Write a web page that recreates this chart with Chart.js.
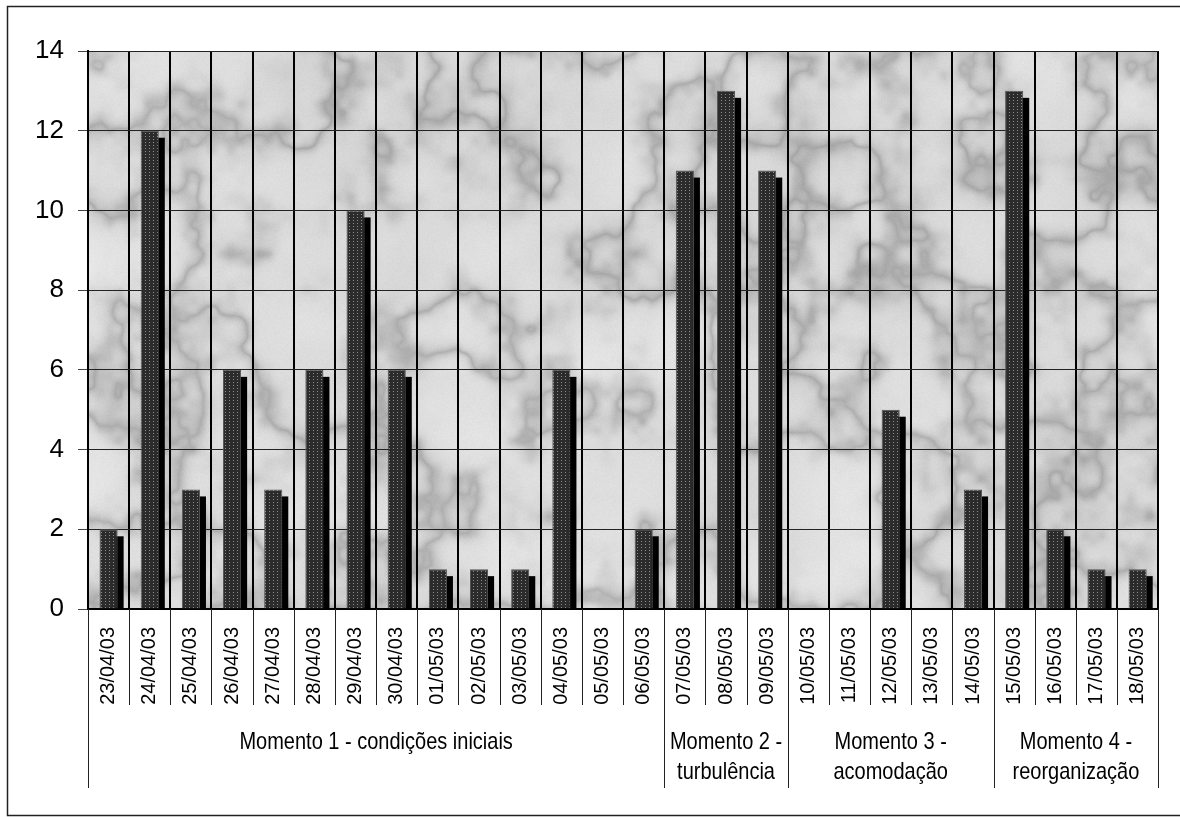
<!DOCTYPE html>
<html>
<head>
<meta charset="utf-8">
<script src="https://cdn.jsdelivr.net/npm/chart.js@4.4.1/dist/chart.umd.min.js"></script>
<style>
  html, body { margin: 0; padding: 0; background: #fff; }
  #wrap { width: 1180px; height: 817px; position: relative; }
</style>
</head>
<body>
<div id="wrap"><canvas id="c" width="1180" height="817"></canvas></div>
<script>
// ---- data ----
const dates = ['23/04/03','24/04/03','25/04/03','26/04/03','27/04/03','28/04/03','29/04/03','30/04/03',
  '01/05/03','02/05/03','03/05/03','04/05/03','05/05/03','06/05/03','07/05/03','08/05/03','09/05/03',
  '10/05/03','11/05/03','12/05/03','13/05/03','14/05/03','15/05/03','16/05/03','17/05/03','18/05/03'];
const counts = [2,12,3,6,3,6,10,6,1,1,1,6,0,2,11,13,11,0,0,5,0,3,13,2,1,1];
const groupLabels = [['Momento 1 - condições iniciais'], ['Momento 2 -','turbulência'], ['Momento 3 -','acomodação'], ['Momento 4 -','reorganização']];
const groupSizes = [14, 3, 5, 4];
const yTicks = [0, 2, 4, 6, 8, 10, 12, 14];

// ---- textures ----
function hash(x, y) {
  const s = Math.sin(x * 127.1 + y * 311.7) * 43758.5453;
  return s - Math.floor(s);
}
function vnoise(x, y) {
  const xi = Math.floor(x), yi = Math.floor(y);
  const xf = x - xi, yf = y - yi;
  const u = xf * xf * (3 - 2 * xf), v = yf * yf * (3 - 2 * yf);
  const a = hash(xi, yi), b = hash(xi + 1, yi), c = hash(xi, yi + 1), d = hash(xi + 1, yi + 1);
  return a + (b - a) * u + (c - a) * v + (a - b - c + d) * u * v;
}
function fbm(x, y, oct) {
  let s = 0, amp = 0.5, f = 1;
  for (let i = 0; i < oct; i++) { s += amp * vnoise(x * f, y * f); amp *= 0.5; f *= 2; }
  return s;
}
function makeMarble(w, h) {
  const cv = document.createElement('canvas');
  cv.width = w; cv.height = h;
  const cx = cv.getContext('2d');
  const img = cx.createImageData(w, h);
  for (let y = 0; y < h; y++) {
    for (let x = 0; x < w; x++) {
      const n = fbm(x / 75 + 3.1, y / 75 + 7.3, 4);
      const r = 1 - Math.abs(n * 2 - 1);
      const m = fbm(x / 110, y / 110, 3);
      let g = 234 - 50 * Math.pow(r, 7) - 26 * m + 6 * (hash(x, y) - 0.5);
      g = Math.max(150, Math.min(248, g));
      const i = (y * w + x) * 4;
      img.data[i] = g; img.data[i + 1] = g; img.data[i + 2] = g; img.data[i + 3] = 255;
    }
  }
  cx.putImageData(img, 0, 0);
  return cv;
}
function makeDots() {
  const cv = document.createElement('canvas');
  cv.width = 4; cv.height = 3;
  const cx = cv.getContext('2d');
  cx.fillStyle = '#2b2b2b'; cx.fillRect(0, 0, 4, 3);
  cx.fillStyle = '#8c8c8c'; cx.fillRect(1, 1, 1, 1);
  return cv;
}
const ctx = document.getElementById('c').getContext('2d');
const barPattern = ctx.createPattern(makeDots(), 'repeat');
let marble = null;

const FONT = "'Liberation Sans', Arial, Helvetica, sans-serif";

const chartPlugin = {
  id: 'decor',
  beforeDraw(chart) {
    const a = chart.chartArea, c = chart.ctx;
    c.save();
    c.fillStyle = '#fff';
    c.fillRect(0, 0, chart.width, chart.height);
    if (!marble) marble = makeMarble(Math.round(a.right - a.left), Math.round(a.bottom - a.top));
    c.drawImage(marble, a.left, a.top, a.right - a.left, a.bottom - a.top);
    c.restore();
  },
  beforeDatasetDraw(chart, args) {
    // black offset shadow behind every bar, from the bar elements' own geometry
    const c = chart.ctx;
    const meta = chart.getDatasetMeta(args.index);
    c.save();
    c.fillStyle = '#000';
    meta.data.forEach(el => {
      const p = el.getProps(['x', 'y', 'base', 'width'], true);
      if (p.base - p.y <= 0) return;
      const left = p.x - p.width / 2 + 6;
      const top = p.y + 7;
      c.fillRect(left, top, p.width, p.base - top);
    });
    c.restore();
  },
  afterDraw(chart) {
    const c = chart.ctx, x = chart.scales.x, a = chart.chartArea;
    const n = dates.length;
    const step = (a.right - a.left) / n;
    const edge = i => (i < n ? x.getPixelForValue(i) - step / 2 : x.getPixelForValue(n - 1) + step / 2);
    c.save();
    c.strokeStyle = '#222';
    c.lineWidth = 1;
    for (let i = 0; i <= n; i++) {
      const px = Math.round(edge(i)) + 0.5;
      c.beginPath(); c.moveTo(px, a.bottom); c.lineTo(px, a.bottom + 96); c.stroke();
    }
    let start = 0;
    const bounds = [0];
    groupSizes.forEach(s => { start += s; bounds.push(start); });
    bounds.forEach(b => {
      const px = Math.round(edge(b)) + 0.5;
      c.beginPath(); c.moveTo(px, a.bottom); c.lineTo(px, a.bottom + 179); c.stroke();
    });
    c.fillStyle = '#000';
    c.font = "20px " + FONT;
    c.textAlign = 'center';
    c.textBaseline = 'middle';
    groupLabels.forEach((lines, gi) => {
      const cx = (edge(bounds[gi]) + edge(bounds[gi + 1])) / 2;
      lines.forEach((t, li) => {
        const cy = a.bottom + 133 + li * 30;
        c.save();
        c.translate(cx, cy);
        c.scale(1, 1.18);
        c.fillText(t, 0, 0);
        c.restore();
      });
    });
    c.strokeStyle = '#222';
    c.lineWidth = 1.5;
    c.beginPath();
    c.moveTo(1181, 6.5); c.lineTo(7.5, 6.5); c.lineTo(7.5, 815.5); c.lineTo(1181, 815.5);
    c.stroke();
    c.restore();
  }
};

new Chart(ctx, {
  type: 'bar',
  data: {
    labels: dates,
    datasets: [{
      data: counts,
      backgroundColor: barPattern,
      borderColor: '#555',
      borderWidth: 1,
      borderSkipped: 'bottom',
      categoryPercentage: 1.0,
      barPercentage: 0.44
    }]
  },
  options: {
    responsive: false,
    animation: false,
    devicePixelRatio: 1,
    layout: { padding: { top: 51, right: 18, left: 0, bottom: 0 } },
    plugins: { legend: { display: false }, tooltip: { enabled: false } },
    scales: {
      x: {
        offset: true,
        grid: { offset: true, color: '#000', lineWidth: 2, drawTicks: false },
        border: { display: true, color: '#000', width: 2 },
        ticks: {
          autoSkip: false, minRotation: 90, maxRotation: 90, padding: 18,
          color: '#000', font: { family: FONT, size: 20 }
        },
        afterFit(s) { s.height = 208; }
      },
      y: {
        min: 0, max: 14,
        afterBuildTicks(s) { s.ticks = yTicks.map(v => ({ value: v })); },
        grid: { color: '#222', lineWidth: 1, tickLength: 10, tickColor: '#444' },
        border: { display: true, color: '#000', width: 2 },
        ticks: { padding: 14, color: '#000', font: { family: FONT, size: 26 } },
        afterFit(s) { s.width = 88; }
      }
    }
  },
  plugins: [chartPlugin]
});
</script>
</body>
</html>
